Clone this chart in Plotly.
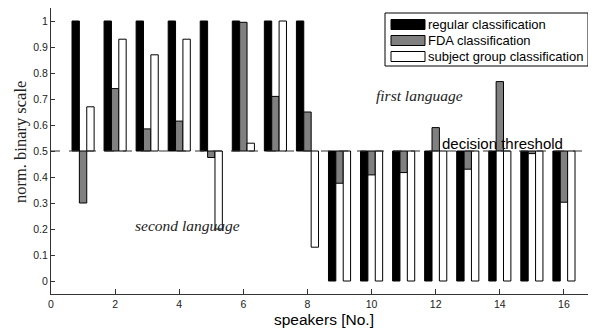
import plotly.graph_objects as go

speakers = list(range(1, 17))
regular = [1, 1, 1, 1, 1, 1, 1, 1, 0, 0, 0, 0, 0, 0, 0, 0]
fda = [0.30, 0.74, 0.585, 0.615, 0.475, 0.995, 0.71, 0.65,
       0.376, 0.408, 0.417, 0.59, 0.43, 0.767, 0.49, 0.303]
subject = [0.67, 0.93, 0.87, 0.93, 0.20, 0.53, 1.0, 0.13,
           0, 0, 0, 0, 0, 0, 0, 0]
threshold = 0.5

yticks = [i / 10 for i in range(11)]
ytick_text = ["0"] + ["%.1f" % v for v in yticks[1:-1]] + ["1"]

series = [("regular classification", regular, "black"),
          ("FDA classification", fda, "#808080"),
          ("subject group classification", subject, "white")]

# page has an 8px body margin, so the figure is a bit smaller than the window
OFF = 8
W, H = 596 - OFF, 329 - OFF
L, R, T, B = 51 - OFF, 0, 8 - OFF, 35
pw, ph = W - L - R, H - T - B

def px(x):  # window pixel -> paper x
    return (x - OFF - L) / pw

def py(y):  # window pixel -> paper y
    return 1 - (y - OFF - T) / ph

SANS = "Liberation Sans, Arial"
SERIF = "Liberation Serif, Times New Roman"

fig = go.Figure()
for name, vals, col in series:
    fig.add_trace(go.Bar(
        x=speakers, y=[v - threshold for v in vals], base=threshold,
        name=name, marker=dict(color=col, line=dict(color="black", width=1))
    ))

# decision threshold line
fig.add_shape(type="line", xref="x", yref="y", x0=0, x1=17,
              y0=threshold, y1=threshold,
              line=dict(color="#333333", width=1, dash="dash"), layer="above")

fig.add_annotation(x=12.12, y=threshold, text="decision threshold",
                   xanchor="left", yanchor="bottom", showarrow=False, yshift=-3,
                   font=dict(family=SANS, size=15, color="black"))
fig.add_annotation(x=11.5, y=0.715, text="<i>first language</i>", showarrow=False,
                   font=dict(family=SERIF, size=15.5, color="#222"))
fig.add_annotation(x=4.26, y=0.215, text="<i>second language</i>", showarrow=False,
                   font=dict(family=SERIF, size=15.5, color="#222"))

# legend box drawn by hand (MATLAB style wide patches)
fig.add_shape(type="rect", xref="paper", yref="paper",
              x0=px(385), x1=px(588), y0=py(66), y1=py(13),
              line=dict(color="black", width=1), fillcolor="white", layer="above")
for i, (name, vals, col) in enumerate(series):
    yc = 24.5 + i * 16
    fig.add_shape(type="rect", xref="paper", yref="paper",
                  x0=px(391), x1=px(425), y0=py(yc + 5), y1=py(yc - 5),
                  line=dict(color="black", width=1), fillcolor=col, layer="above")
    fig.add_annotation(xref="paper", yref="paper", x=px(426), y=py(yc),
                       text=name, xanchor="left", yanchor="middle", showarrow=False,
                       font=dict(family=SANS, size=13, color="black"))

# axis titles
fig.add_annotation(xref="paper", yref="paper", x=0.5, y=py(319), text="speakers [No.]",
                   xanchor="center", yanchor="middle", showarrow=False,
                   font=dict(family=SANS, size=15.5, color="black"))
fig.add_annotation(xref="paper", yref="paper", x=px(20), y=py(142), text="norm. binary scale",
                   textangle=-90, xanchor="center", yanchor="middle", showarrow=False,
                   font=dict(family=SERIF, size=16.5, color="#222"))

fig.update_layout(
    width=W, height=H,
    margin=dict(l=L, r=R, t=T, b=B),
    paper_bgcolor="white", plot_bgcolor="white",
    barmode="group", bargap=0.31, bargroupgap=0,
    showlegend=False,
    xaxis=dict(range=[0, 17], tickvals=list(range(0, 17, 2)),
               ticks="inside", ticklen=5, tickcolor="#333",
               showline=True, linecolor="#333", linewidth=1,
               showgrid=False, zeroline=False, automargin=False,
               tickfont=dict(family=SANS, size=10.5, color="#222")),
    yaxis=dict(range=[-0.05, 1.05], tickvals=yticks, ticktext=ytick_text,
               ticks="inside", ticklen=4, tickcolor="#333",
               showline=True, linecolor="#333", linewidth=1,
               showgrid=False, zeroline=False, automargin=False,
               tickfont=dict(family=SANS, size=10.5, color="#222")),
)

fig.write_html("out.html")
